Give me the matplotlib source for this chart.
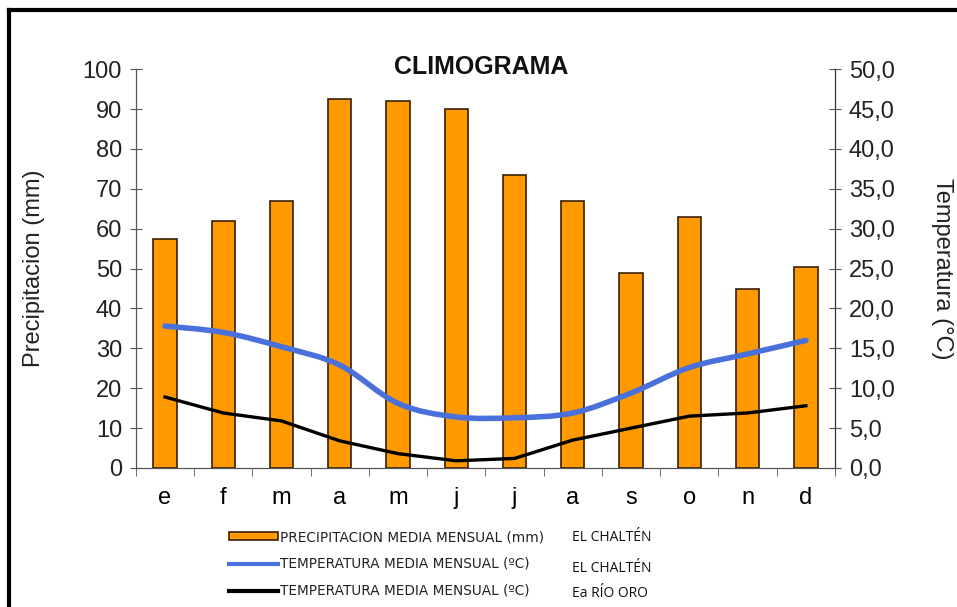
import matplotlib
matplotlib.use("Agg")
import matplotlib.pyplot as plt
from matplotlib.lines import Line2D
from matplotlib.patches import Patch, PathPatch
from matplotlib.path import Path
from matplotlib.ticker import FuncFormatter
import numpy as np

plt.rcParams["font.family"] = ["Liberation Sans", "DejaVu Sans"]

months = ["e", "f", "m", "a", "m", "j", "j", "a", "s", "o", "n", "d"]
precip_chalten = [57.5, 62, 67, 92.5, 92, 90, 73.5, 67, 49, 63, 45, 50.5]
temp_chalten = [17.8, 17.0, 15.2, 12.9, 8.1, 6.4, 6.3, 6.9, 9.4, 12.6, 14.3, 16.0]
temp_rio_oro = [8.9, 6.9, 5.9, 3.4, 1.8, 0.9, 1.2, 3.5, 5.0, 6.5, 6.9, 7.8]

legend_labels = [
    "PRECIPITACION MEDIA MENSUAL (mm)",
    "TEMPERATURA MEDIA MENSUAL (ºC)",
    "TEMPERATURA MEDIA MENSUAL (ºC)",
]
station_labels = ["EL CHALTÉN", "EL CHALTÉN", "Ea RÍO ORO"]

BAR_COLOR = "#ff9900"
BLUE = "#4a70dc"


def smooth_path(x, y):
    """Catmull-Rom style cubic bezier through the points (Excel 'smoothed line')."""
    x = np.asarray(x, float)
    y = np.asarray(y, float)
    verts = [(x[0], y[0])]
    codes = [Path.MOVETO]
    n = len(x)
    for i in range(n - 1):
        x0, y0 = (x[i - 1], y[i - 1]) if i > 0 else (x[i], y[i])
        x3, y3 = (x[i + 2], y[i + 2]) if i + 2 < n else (x[i + 1], y[i + 1])
        c1 = (x[i] + (x[i + 1] - x0) / 6, y[i] + (y[i + 1] - y0) / 6)
        c2 = (x[i + 1] - (x3 - x[i]) / 6, y[i + 1] - (y3 - y[i]) / 6)
        verts += [c1, c2, (x[i + 1], y[i + 1])]
        codes += [Path.CURVE4] * 3
    return Path(verts, codes)


fig = plt.figure(figsize=(9.57, 6.07), dpi=100)
ax = fig.add_axes([0.142, 0.229, 0.7305, 0.657])
ax2 = ax.twinx()

x = np.arange(len(months))
ax.bar(x, precip_chalten, width=0.4, color=BAR_COLOR, edgecolor="#3a2000",
       linewidth=1.2, zorder=2)
ax.set_xlim(-0.5, len(months) - 0.5)
ax.set_ylim(0, 100)
ax.set_yticks(range(0, 101, 10))
ax.set_xticks(x)
ax.set_xticklabels(months)
ax.set_xticks(np.arange(-0.5, len(months), 1), minor=True)
ax.tick_params(axis="x", which="major", length=0, labelsize=17, pad=14)
ax.tick_params(axis="x", which="minor", length=6, direction="out", color="#555555")
ax.tick_params(axis="y", direction="inout", length=8, labelsize=17, pad=6,
               color="#555555", labelcolor="#222222")

ax2.set_ylim(0, 50)
ax2.set_yticks(range(0, 51, 5))
ax2.yaxis.set_major_formatter(FuncFormatter(lambda v, _: f"{v:.1f}".replace(".", ",")))
ax2.tick_params(axis="y", direction="inout", length=8, labelsize=17, pad=6,
                color="#555555", labelcolor="#222222")

ax2.add_patch(PathPatch(smooth_path(x, temp_chalten), facecolor="none",
                        edgecolor=BLUE, linewidth=4, capstyle="round", zorder=3))
ax2.plot(x, temp_rio_oro, color="black", linewidth=2.4, zorder=4)

for a in (ax, ax2):
    a.spines["top"].set_visible(False)
    a.spines["left"].set_color("#555555")
    a.spines["right"].set_color("#333333")
    a.spines["bottom"].set_color("#555555")

ax.set_ylabel("Precipitacion (mm)", fontsize=17, labelpad=27, color="#222222")
ax2.set_ylabel("Temperatura (°C)", fontsize=17, rotation=-90, labelpad=42,
               color="#222222")
ax.text(0.494, 1.005, "CLIMOGRAMA", transform=ax.transAxes, fontsize=18,
        fontweight="bold", ha="center", va="center", color="#111111")

handles = [
    Patch(facecolor=BAR_COLOR, edgecolor="#3a2000", linewidth=1.2),
    Line2D([], [], color=BLUE, linewidth=3),
    Line2D([], [], color="black", linewidth=3),
]
leg = fig.legend(handles, legend_labels, loc="upper left",
                 bbox_to_anchor=(0.232, 0.138), frameon=False, fontsize=9.8,
                 handlelength=3.6, handleheight=0.5, handletextpad=0.15,
                 labelspacing=0.95, borderpad=0)
for t in leg.get_texts():
    t.set_family(["DejaVu Sans Condensed", "DejaVu Sans"])
    t.set_color("#222222")

for yy, label in zip([0.114, 0.064, 0.022], station_labels):
    fig.text(0.598, yy, label, fontsize=10, family=["Open Sans", "DejaVu Sans"],
             va="center", color="#111111")

# frame lines at the top and left edges
fig.add_artist(Line2D([0.0094, 0.0094], [0.0, 0.984], color="black",
                      linewidth=3, transform=fig.transFigure))
fig.add_artist(Line2D([0.0094, 1.0], [0.984, 0.984], color="black",
                      linewidth=3, transform=fig.transFigure))

fig.savefig("out.png", dpi=100)
